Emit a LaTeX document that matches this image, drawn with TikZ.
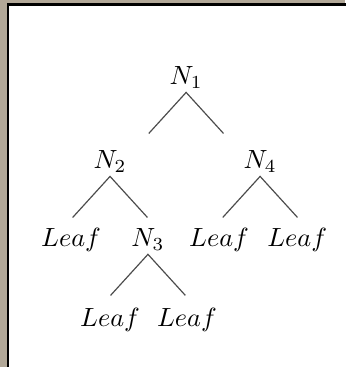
\documentclass[tikz,border=0pt]{standalone}
\usepackage{tikz}
\usetikzlibrary{positioning}
\definecolor{stone}{RGB}{178,168,152}
\tikzset{
  treenode/.style={inner sep=1pt},
  branch/.style={draw=black!70, line width=0.45pt},
  frame/.style={draw=black, line width=0.8pt, fill=white}
}

\begin{document}
\begin{tikzpicture}[on grid]
  % stone background and white page
  \fill[stone] (-70.7pt,29.6pt) rectangle (60.4pt,-109.8pt);
  \useasboundingbox (-70.7pt,29.6pt) rectangle (60.4pt,-109.8pt);
  \draw[frame] (-67.8pt,27.9pt) rectangle (62pt,-112pt);
  % nodes
  \node[treenode] (n1) {$N_1$};
  \node[treenode, below left=31.9pt and 28.9pt of n1] (n2) {$N_2$};
  \node[treenode, below right=31.9pt and 28.1pt of n1] (n4) {$N_4$};
  \node[treenode, below left=29.6pt and 14.8pt of n2] (leafa) {$Leaf$};
  \node[treenode, below right=29.6pt and 14.4pt of n2] (n3) {$N_3$};
  \node[treenode, below left=29.6pt and 15.6pt of n4] (leafb) {$Leaf$};
  \node[treenode, below right=29.6pt and 14.1pt of n4] (leafc) {$Leaf$};
  \node[treenode, below left=30.4pt and 14.4pt of n3] (leafd) {$Leaf$};
  \node[treenode, below right=30.4pt and 14.8pt of n3] (leafe) {$Leaf$};
  % branches
  \foreach \p in {n1,n2,n3,n4} {
    \coordinate[below=5.5pt of \p] (\p-top);
    \coordinate[below left=15.6pt and 14.2pt of \p-top] (\p-l);
    \coordinate[below right=15.6pt and 14.2pt of \p-top] (\p-r);
    \draw[branch] (\p-l) -- (\p-top) -- (\p-r);
  }
\end{tikzpicture}
\end{document}
